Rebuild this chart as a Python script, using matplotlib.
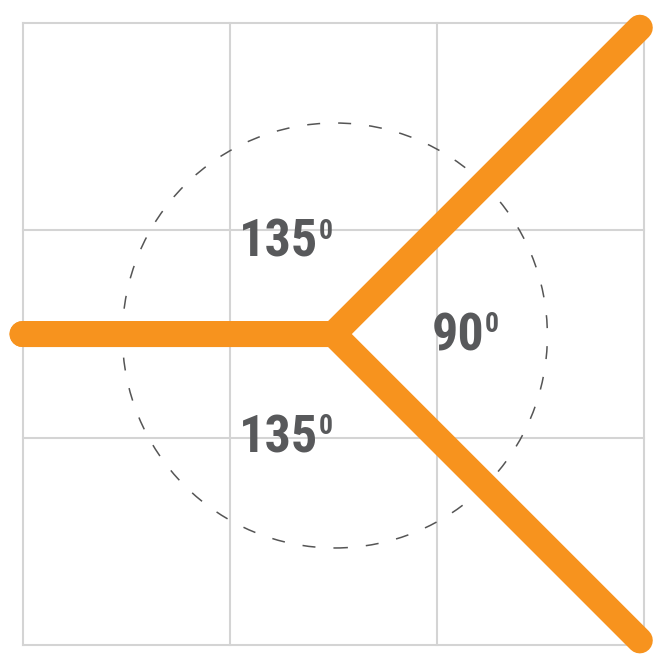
import numpy as np
import matplotlib
matplotlib.use('Agg')
import matplotlib.pyplot as plt
from matplotlib.patches import Circle

# grid: 3x3 squares, one unit each
grid_n = 3
center = (1.5, 1.5)

# arms: direction (deg) and length (grid units)
arm_angles = [180, 45, -45]
arm_lengths = [1.5, 2.09, 2.09]

# angles between arms, label text and where to write it
angle_labels = ['135', '90', '135']
label_xy = [(1.045, 1.872), (1.975, 1.423), (1.045, 0.931)]

circle_r = 1.025

orange = '#f7931e'
text_col = '#58595b'
grid_col = '#d4d4d4'

fig = plt.figure(figsize=(6.57, 6.60), dpi=100)
ax = fig.add_axes([0, 0, 1, 1])
cell = 207.3  # px per grid unit
ax.set_xlim(-22.5 / cell, (657 - 22.5) / cell)
ax.set_ylim(-15 / cell, 645 / cell)
ax.axis('off')

for i in range(grid_n + 1):
    ax.plot([i, i], [0, grid_n], color=grid_col, lw=1.5, zorder=1)
    ax.plot([0, grid_n], [i, i], color=grid_col, lw=1.5, zorder=1)

ax.add_patch(Circle((center[0] + 0.007, center[1] - 0.007), circle_r, fill=False,
                    ec='#555555', lw=1.1, ls=(0, (8.5, 11.8)), zorder=2))

# arm end points
ends = [(center[0] + l * np.cos(np.radians(a)), center[1] + l * np.sin(np.radians(a)))
        for a, l in zip(arm_angles, arm_lengths)]

for e in ends[1:]:
    xs = [ends[0][0], center[0], e[0]]
    ys = [ends[0][1], center[1], e[1]]
    ax.plot(xs, ys, color=orange, lw=18.7, solid_capstyle='round',
            solid_joinstyle='miter', zorder=3)

font = dict(family=['Roboto Condensed', 'DejaVu Sans'], weight='bold', color=text_col)
for lab, (x, y) in zip(angle_labels, label_xy):
    t = ax.text(x, y, lab, ha='left', va='baseline', fontsize=37.5, zorder=4, **font)
    ax.annotate('0', xy=(1, 0), xycoords=t, xytext=(0, 21), textcoords='offset points',
                ha='left', va='baseline', fontsize=20, zorder=4, **font)

fig.savefig('out.png', dpi=100)
